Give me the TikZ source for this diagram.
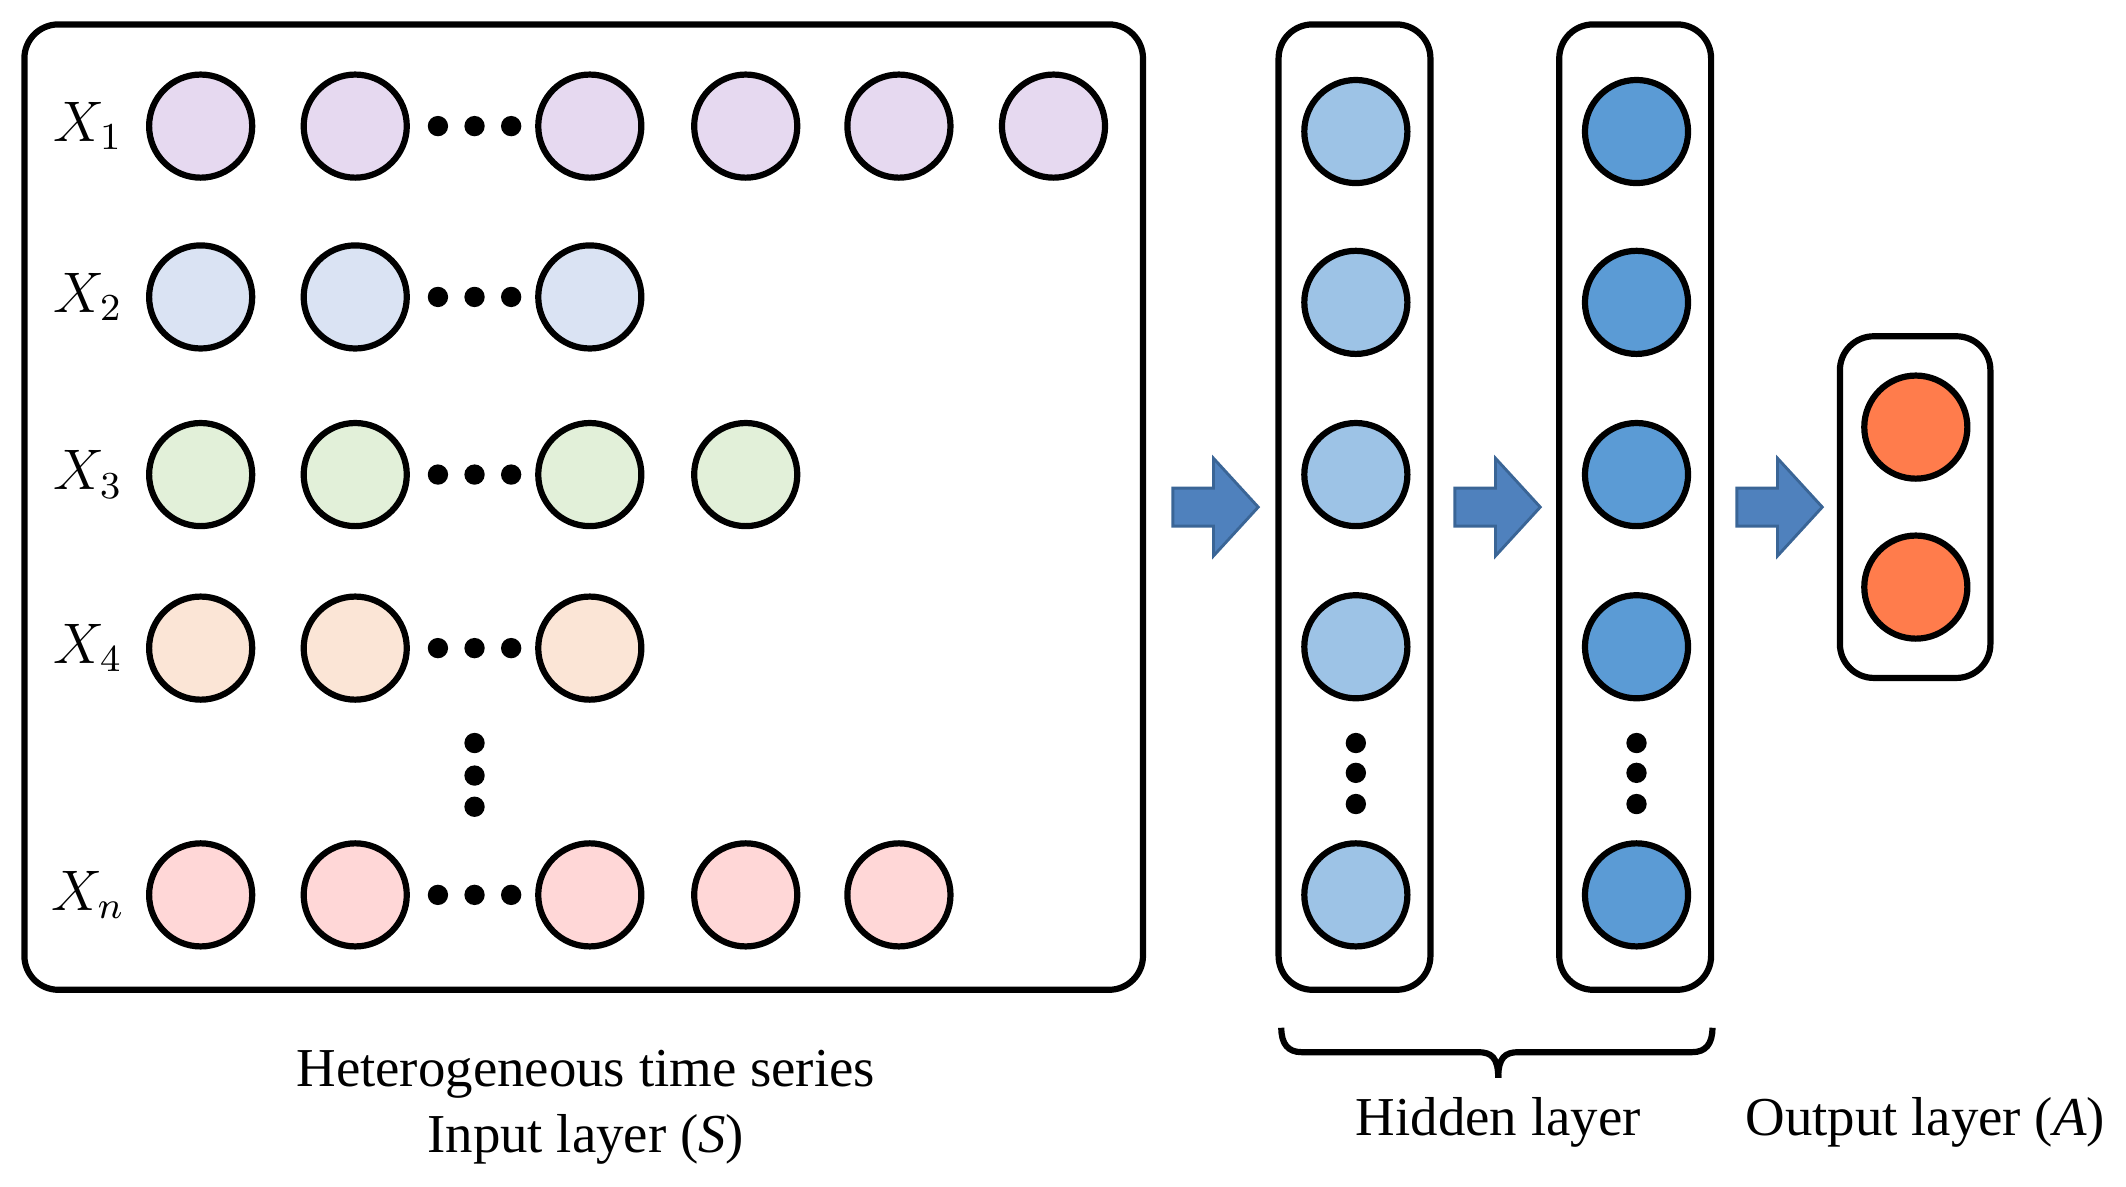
\documentclass[tikz,border=0pt]{standalone}
\usepackage{fontspec}
\setmainfont{Liberation Serif}
\begin{document}
\begin{tikzpicture}[x=0.01cm,y=-0.01cm,
  every node/.style={font=\fontsize{11.5}{14}\selectfont},
  neu/.style={circle,draw=black,line width=1.3pt,minimum size=0.76cm,inner sep=0pt},
  box/.style={draw=black,line width=1.3pt,rounded corners=0.25cm},
  dot/.style={circle,fill=black,minimum size=0.15cm,inner sep=0pt},
  barrow/.style={fill=arrowc,draw=arrowd,line width=0.6pt}]
\definecolor{c1}{HTML}{E6D9F0}\definecolor{c2}{HTML}{DAE3F3}
\definecolor{c3}{HTML}{E2F0D9}\definecolor{c4}{HTML}{FBE5D6}
\definecolor{c5}{HTML}{FFD7D7}\definecolor{h1}{HTML}{9DC3E6}
\definecolor{h2}{HTML}{5B9BD5}\definecolor{oc}{HTML}{FF7C4C}
\definecolor{arrowc}{HTML}{4F81BD}\definecolor{arrowd}{HTML}{3A6596}
\useasboundingbox (0,0) rectangle (1568,875);
\draw[box] (18,18) rectangle (843,730);
% rows
\foreach \r/\y/\c/\lab/\cols in {1/93/c1/1/{550,663,777},2/219/c2/2/{},3/350/c3/3/{550},4/478/c4/4/{},n/660/c5/n/{550,663}}{
  \node at (65,\y) {$X_{\lab}$};
  \node[neu,fill=\c] (r\r a) at (148,\y) {};
  \node[neu,fill=\c] (r\r b) at (262,\y) {};
  \node[neu,fill=\c] (r\r c) at (435,\y) {};
  \foreach \dx in {323,350,377}{\node[dot] at (\dx,\y) {};}
  \foreach \xx in \cols {\node[neu,fill=\c] (r\r x\xx) at (\xx,\y) {};}
}
\foreach \yy in {548,572,595}{\node[dot] at (350,\yy) {};}
% hidden
\draw[box] (943,18) rectangle (1055,730);
\draw[box] (1150,18) rectangle (1262,730);
\foreach \y [count=\i] in {97,223,350,477,660}{
  \node[neu,fill=h1] (ha\i) at (1000,\y) {};
  \node[neu,fill=h2] (hb\i) at (1207,\y) {};
}
\foreach \yy in {548,570,593}{\node[dot] at (1000,\yy) {}; \node[dot] at (1207,\yy) {};}
% output
\draw[box] (1357,248) rectangle (1468,500);
\node[neu,fill=oc] (o1) at (1413,315) {};
\node[neu,fill=oc] (o2) at (1413,433) {};
% block arrows
\foreach \x in {865,1073,1281}{
  \draw[barrow] (\x,360) -- (\x+30,360) -- (\x+30,338) -- (\x+63,374) -- (\x+30,410) -- (\x+30,388) -- (\x,388) -- cycle;
}
% brace
\draw[line width=1.3pt] (945,758) .. controls (945,770) and (950,776) .. (960,776) -- (1090,776) .. controls (1100,776) and (1105,780) .. (1105,795);
\draw[line width=1.3pt] (1263,758) .. controls (1263,770) and (1258,776) .. (1248,776) -- (1120,776) .. controls (1110,776) and (1105,780) .. (1105,795);
% labels
\node (t1) at (432,792) {Heterogeneous time series};
\node (t2) at (432,840) {Input layer (\textit{S})};
\node (t3) at (1105,828) {Hidden layer};
\node (t4) at (1420,828) {Output layer (\textit{A})};
\end{tikzpicture}
\end{document}
